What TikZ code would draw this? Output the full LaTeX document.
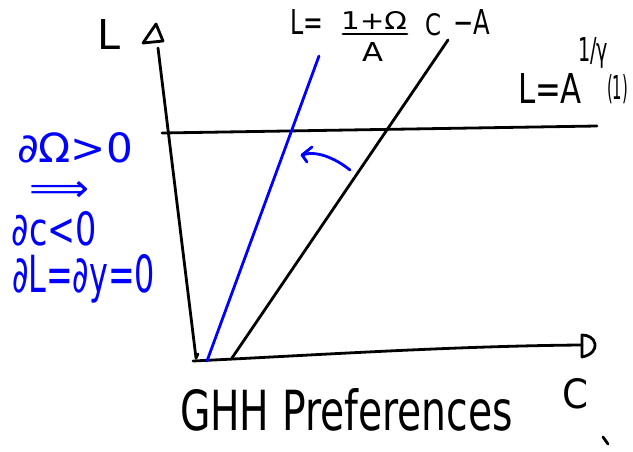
\documentclass[tikz,border=0pt]{standalone}
\usepackage{fontspec}
\setmainfont{DejaVu Sans}
\usepackage{graphicx}
\newcommand{\fitbox}[3]{\resizebox{#1pt}{#2pt}{#3}}
\begin{document}
\begin{tikzpicture}[x=1pt,y=-1pt,
  ink/.style={line width=2.8pt, line cap=round, line join=round},
  bl/.style={ink, draw=blue},
  lbl/.style={inner sep=0pt, outer sep=0pt, anchor=base west},
  blbl/.style={lbl, text=blue}]
\useasboundingbox (0,0) rectangle (633,452);
% coordinates
\coordinate (ytop) at (158,48);
\coordinate (orig) at (196,358);
\coordinate (xstart) at (193,361);
\coordinate (xend) at (582,345);
\coordinate (hl) at (162,133);
\coordinate (hr) at (597,126);
\coordinate (b0) at (207,361);
\coordinate (b1) at (319,56);
\coordinate (k0) at (232,358);
\coordinate (k1) at (448,40);
\coordinate (a0) at (350,170);
\coordinate (a1) at (302,155);
% axes
\draw[ink] (ytop) -- (orig) -- ++(2,-4);
\draw[ink] (143,43) -- (163,41) -- (156,24) -- cycle;
\draw[ink] (xstart) .. controls (300,356) and (450,346) .. (xend);
\draw[ink] (582,335) -- (582,357) .. controls (592,355) and (596,349) .. (595,344) .. controls (594,338) and (588,335) .. cycle;
% horizontal line
\draw[ink] (hl) -- (hr);
% lines
\draw[bl] (b0) -- (b1);
\draw[ink] (k0) -- (k1);
% blue arrow
\draw[bl] (a0) .. controls (335,158) and (316,150) .. (a1);
\draw[bl] (312,147) -- (a1) -- (307,162);
% labels
\node[lbl] (Lax) at (97,50) {\fitbox{23}{30}{L}};
\node[lbl] (t1) at (290,35) {\fitbox{33}{25}{L=}};
\node[lbl] (t2) at (341,30) {\fitbox{66}{18}{1+Ω}};
\draw[ink] (343,34) -- (407,34);
\node[lbl] (t3) at (362,62) {\fitbox{21}{19}{A}};
\node[lbl] (t4) at (425,36) {\fitbox{16}{22}{C}};
\node[lbl] (t5) at (453,35) {\fitbox{37}{25}{−A}};
\node[lbl] (u1) at (518,103) {\fitbox{64}{30}{L=A}};
\node[lbl] (u2) at (578,62) {\fitbox{30}{24}{1/γ}};
\node[lbl] (u3) at (607,100) {\fitbox{21}{25}{(1)}};
\node[blbl] (v1) at (17,163) {\fitbox{116}{30}{∂Ω>0}};
\node[blbl] (v2) at (30,202) {\fitbox{60}{20}{⟹}};
\node[blbl] (v3) at (12,245) {\fitbox{85}{34}{∂c<0}};
\node[blbl] (v4) at (12,292) {\fitbox{143}{38}{∂L=∂y=0}};
\node[lbl] (title) at (180,430) {\fitbox{333}{42}{GHH Preferences}};
\node[lbl] (Cax) at (562,408) {\fitbox{26}{30}{C}};
\draw[ink] (603,437) -- (608,444);
\end{tikzpicture}
\end{document}
